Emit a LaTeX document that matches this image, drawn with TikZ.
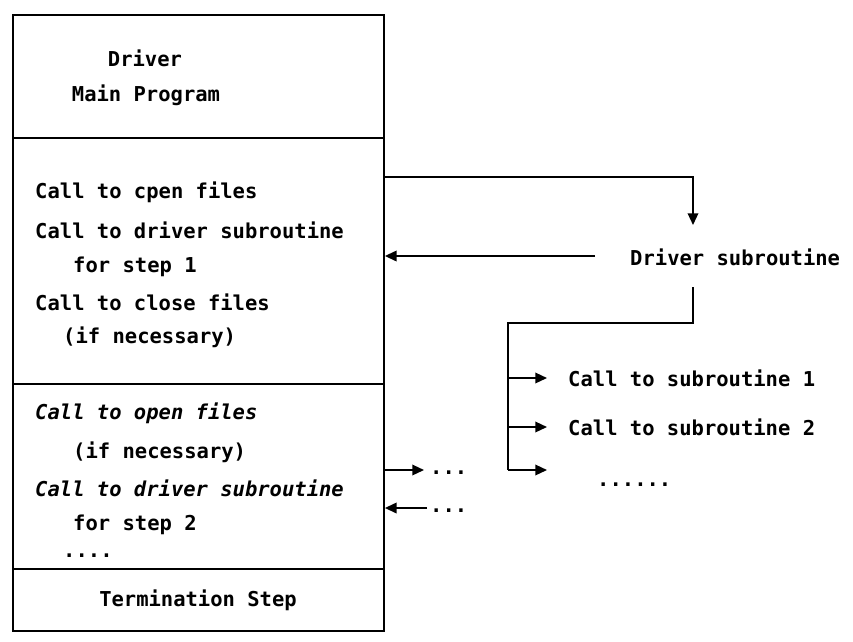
\documentclass[tikz,border=0pt]{standalone}
\usepackage{fontspec}
\setmonofont{DejaVu Sans Mono}
\usetikzlibrary{arrows.meta}

\tikzset{
  part/.style={draw, line width=1.6pt, minimum width=11.13cm, anchor=north west, inner sep=0pt},
  line/.style={anchor=west, inner sep=0pt},
  flow/.style={line width=1.5pt, -{Triangle[length=10pt, width=9pt]}},
  wire/.style={line width=1.5pt}
}

\begin{document}
\begin{tikzpicture}[x=0.03cm, y=-0.03cm, font=\ttfamily\bfseries\fontsize{17.5}{20}\selectfont]
  \useasboundingbox (0,0) rectangle (853,641);

  % --- The main program, in four parts ---
  \node[part, minimum height=3.69cm] (main) at (12,14) {};
  \node[part, minimum height=7.38cm] (step1) at (12,137) {};
  \node[part, minimum height=5.55cm] (step2) at (12,383) {};
  \node[part, minimum height=1.86cm] (term) at (12,568) {};

  \node (title) at (145,58) {Driver};
  \node (prog) at (146,95) {Main Program};

  \node[line] (open1) at (35,192) {Call to cpen files};
  \node[line] (call1) at (35,230) {Call to driver subroutine};
  \node[line] (for1) at (73,267) {for step 1};
  \node[line] (close1) at (35,302) {Call to close files};
  \node[line] (need1) at (63,337) {(if necessary)};

  \node[line] (open2) at (35,413) {\itshape Call to open files};
  \node[line] (need2) at (73,452) {(if necessary)};
  \node[line] (call2) at (35,488) {\itshape Call to driver subroutine};
  \node[line] (for2) at (73,525) {for step 2};
  \node[anchor=base west, inner sep=0pt] (more) at (63,557) {....};

  \node (stop) at (198,600) {Termination Step};

  % --- Driver subroutine ---
  \node[line] (drv) at (630,257) {Driver subroutine};
  \coordinate (drvtop) at (693,225);
  \coordinate (drvbot) at (693,287);
  \coordinate (drvback) at (595,256);
  \coordinate (bus) at (508,323);

  \draw[flow] (step1.north east) ++(0,40) -| (drvtop);
  \draw[flow] (drvback) -- (step1.east |- drvback);

  % --- Calls made by the driver subroutine ---
  \node[line] (sub1) at (568,378) {Call to subroutine 1};
  \node[line] (sub2) at (568,427) {Call to subroutine 2};
  \node[anchor=base west, inner sep=0pt] (sub3) at (597,486) {......};
  \coordinate (sub3tip) at (547,470);

  \draw[wire] (drvbot) |- (bus) -- (bus |- sub3tip);
  \draw[flow] (bus |- sub1.west) -- ([xshift=-0.63cm]sub1.west);
  \draw[flow] (bus |- sub2.west) -- ([xshift=-0.63cm]sub2.west);
  \draw[flow] (bus |- sub3tip) -- (sub3tip);

  % --- Step 2 calls out and back ---
  \coordinate (outtip) at (424,470);
  \coordinate (intail) at (427,508);
  \node[anchor=base west, inner sep=0pt] (outdots) at (430,474) {...};
  \node[anchor=base west, inner sep=0pt] (indots) at (430,512) {...};
  \draw[flow] (step2.east |- outtip) -- (outtip);
  \draw[flow] (intail) -- (step2.east |- intail);

\end{tikzpicture}
\end{document}
